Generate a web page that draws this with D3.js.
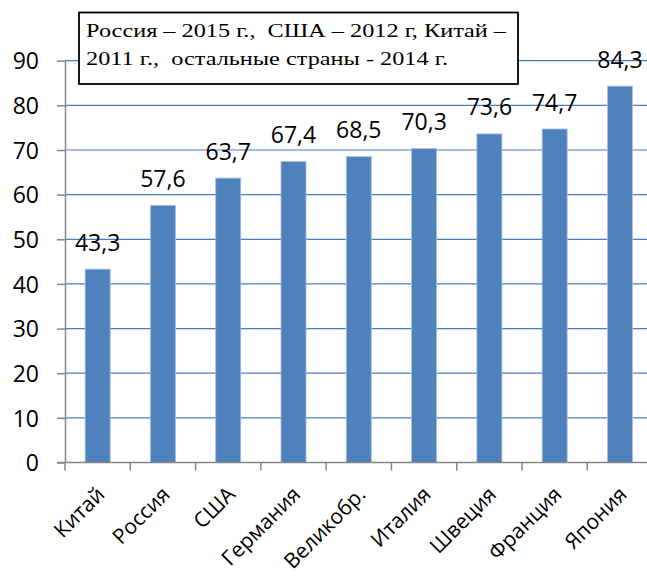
<!DOCTYPE html>
<html>
<head>
  <meta charset="utf-8">
  <title>Bar chart</title>
  <script src="https://cdn.jsdelivr.net/npm/d3@7"></script>
  <style>
    body { margin: 0; background: #fff; }
    .lbl { font-family: "Open Sans", sans-serif; font-size: 23px; fill: #000; }
    .cat { font-family: "Open Sans", sans-serif; font-size: 21px; fill: #000; }
    .note { font-family: "Liberation Serif", "Times New Roman", serif; font-size: 19px; fill: #000; white-space: pre; }
  </style>
</head>
<body>
<div id="chart"></div>
<script>
  // data
  var countries = ["Китай", "Россия", "США", "Германия", "Великобр.", "Италия", "Швеция", "Франция", "Япония"];
  var values = [43.3, 57.6, 63.7, 67.4, 68.5, 70.3, 73.6, 74.7, 84.3];
  var yTicks = [0, 10, 20, 30, 40, 50, 60, 70, 80, 90];
  var noteLines = ["Россия – 2015 г.,  США – 2012 г, Китай –", "2011 г.,  остальные страны - 2014 г."];
  var noteWidths = [420, 362];

  var W = 647, H = 578;
  var plotLeft = 65, plotRight = 652.6, plotTop = 60.7, plotBottom = 462.5;

  var svg = d3.select("#chart").append("svg")
    .attr("width", W)
    .attr("height", H);

  var x = d3.scaleBand()
    .domain(countries)
    .range([plotLeft, plotRight])
    .paddingInner(0.617)
    .paddingOuter(0.3085);

  var y = d3.scaleLinear()
    .domain([0, 90])
    .range([plotBottom, plotTop]);

  // gridlines
  svg.append("g")
    .selectAll("line")
    .data(yTicks.filter(function (d) { return d > 0; }))
    .enter()
    .append("line")
    .attr("x1", plotLeft)
    .attr("x2", W)
    .attr("y1", function (d) { return y(d); })
    .attr("y2", function (d) { return y(d); })
    .attr("stroke", "#4A7EBB")
    .attr("stroke-width", 1.2);

  // bars
  svg.append("g")
    .selectAll("rect")
    .data(values)
    .enter()
    .append("rect")
    .attr("x", function (d, i) { return x(countries[i]); })
    .attr("y", function (d) { return y(d); })
    .attr("width", x.bandwidth())
    .attr("height", function (d) { return y(0) - y(d); })
    .attr("fill", "#4F81BD")
    .attr("stroke", "#A7BFDE")
    .attr("stroke-width", 0.8);

  // value labels
  svg.append("g")
    .selectAll("text")
    .data(values)
    .enter()
    .append("text")
    .attr("class", "lbl")
    .attr("x", function (d, i) { return x(countries[i]) + x.bandwidth() / 2; })
    .attr("y", function (d) { return y(d) - 18.5; })
    .attr("text-anchor", "middle")
    .text(function (d) { return d3.format(".1f")(d).replace(".", ","); });

  // y axis
  var yAxis = svg.append("g")
    .attr("transform", "translate(" + plotLeft + ",0)")
    .call(d3.axisLeft(y).tickValues(yTicks).tickSize(8).tickSizeOuter(0).tickPadding(18));
  yAxis.select(".domain").attr("stroke", "#868686").attr("stroke-width", 1.5);
  yAxis.selectAll(".tick line").attr("stroke", "#868686").attr("stroke-width", 1.5);
  yAxis.selectAll(".tick text")
    .attr("class", "lbl")
    .attr("dy", "0.36em");

  // x axis line and boundary ticks
  var gap = (x.step() - x.bandwidth()) / 2;
  var xg = svg.append("g");
  xg.append("line")
    .attr("x1", plotLeft - 8)
    .attr("x2", W)
    .attr("y1", y(0))
    .attr("y2", y(0))
    .attr("stroke", "#868686")
    .attr("stroke-width", 1.5);
  xg.selectAll("line.tk")
    .data(countries)
    .enter()
    .append("line")
    .attr("class", "tk")
    .attr("x1", function (d) { return x(d) - gap; })
    .attr("x2", function (d) { return x(d) - gap; })
    .attr("y1", y(0))
    .attr("y2", y(0) + 8)
    .attr("stroke", "#868686")
    .attr("stroke-width", 1.5);

  // category labels, rotated
  xg.selectAll("text")
    .data(countries)
    .enter()
    .append("text")
    .attr("class", "cat")
    .attr("text-anchor", "end")
    .attr("dy", "0.35em")
    .attr("transform", function (d) {
      return "translate(" + (x(d) + x.bandwidth() / 2 + 3) + "," + (y(0) + 28) + ") rotate(-45)";
    })
    .text(function (d) { return d; });

  // note box
  svg.append("rect")
    .attr("x", 79)
    .attr("y", 12.5)
    .attr("width", 439)
    .attr("height", 71.5)
    .attr("fill", "#fff")
    .attr("stroke", "#000")
    .attr("stroke-width", 1.8);

  svg.append("g")
    .selectAll("text")
    .data(noteLines)
    .enter()
    .append("text")
    .attr("class", "note")
    .attr("x", 86)
    .attr("y", function (d, i) { return 37 + i * 28; })
    .attr("textLength", function (d, i) { return noteWidths[i]; })
    .attr("lengthAdjust", "spacingAndGlyphs")
    .text(function (d) { return d; });
</script>
</body>
</html>
